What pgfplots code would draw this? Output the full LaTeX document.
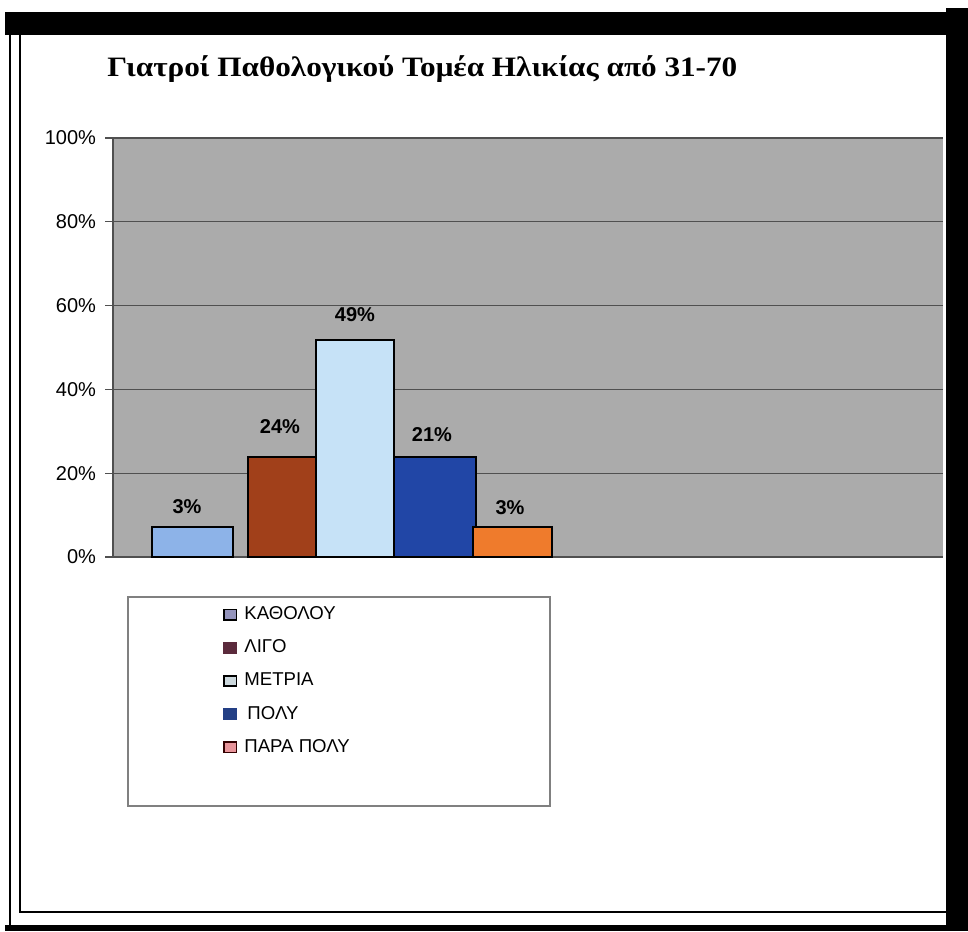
\documentclass[border=0pt]{standalone}
\usepackage{fontspec}
\setmainfont{Liberation Sans}
\newfontfamily\titlefont{Liberation Serif}
\usepackage{pgfplots}
\pgfplotsset{compat=1.18}
\definecolor{plotgray}{HTML}{ABABAB}
\definecolor{gridc}{HTML}{505050}
\definecolor{cA}{HTML}{8DB3E8}
\definecolor{cB}{HTML}{A1401A}
\definecolor{cC}{HTML}{C6E2F7}
\definecolor{cD}{HTML}{2146A6}
\definecolor{cE}{HTML}{EF7B2C}
\definecolor{lA}{HTML}{9494BC}
\definecolor{lB}{HTML}{5B2A3C}
\definecolor{lC}{HTML}{CCD8DD}
\definecolor{lD}{HTML}{233F85}
\definecolor{lE}{HTML}{E8949A}
\begin{document}
\begin{tikzpicture}
\begin{scope}[x=0.5pt,y=-0.5pt]
\useasboundingbox (0,0) rectangle (968,931);
\fill[white] (0,0) rectangle (968,931);
\fill[black] (5,12) rectangle (946,35);
\fill[black] (946,8) rectangle (968,931);
\fill[black] (5,925) rectangle (946,931);
\draw[line width=1.2pt] (10,35) -- (10,925);
\draw[line width=1pt] (20,35) -- (20,912) -- (946,912);
\node[anchor=base west, inner sep=0pt, font=\titlefont\bfseries\fontsize{13}{15}\selectfont] at (107,77) {\scalebox{1.2}[1.08]{Γιατροί Παθολογικού Τομέα Ηλικίας από 31-70}};
\draw[gray, line width=0.6pt] (128,597) rectangle (550,806);
\end{scope}
\begin{axis}[
  at={(56.5pt,-278.5pt)}, anchor=south west,
  scale only axis, width=415pt, height=209.5pt,
  xmin=113, xmax=943, ymin=0, ymax=100,
  axis background/.style={fill=plotgray},
  axis x line*=bottom, axis y line*=left,
  x axis line style={draw=gridc, line width=0.8pt},
  y axis line style={draw=gridc, line width=0.6pt},
  xtick=\empty,
  ytick={0,20,40,60,80,100},
  yticklabel={\pgfmathprintnumber{\tick}\%},
  ymajorgrids, grid style={draw=gridc, line width=0.6pt},
  tick align=outside, major tick length=4pt,
  tick style={draw=gridc, line width=0.6pt},
  y tick label style={font=\fontsize{10}{12}\selectfont, xshift=-1pt},
  /pgf/number format/assume math mode=true,
  every node near coord/.append style={font=\bfseries\fontsize{10}{12}\selectfont, anchor=base, inner sep=0pt},
  legend image code/.code={\filldraw[#1] (0pt,-2.6pt) rectangle (6.2pt,2.6pt);},
  legend style={draw=none, fill=none, at={(axis description cs:0.1325,-0.108)}, anchor=north west,
     font=\fontsize{9.3}{11}\selectfont, row sep=4.6pt, inner sep=0pt,
     nodes={inner xsep=3.5pt}},
  legend cell align=left,
]
\addplot[ybar, bar shift=0pt, bar width=81, fill=cA, draw=black, line width=0.9pt, forget plot,
  nodes near coords={3\%}, nodes near coords style={xshift=-2.75pt, yshift=6.75pt}] coordinates {(192.5,7.2)};
\addplot[ybar, bar shift=0pt, bar width=68, fill=cB, draw=black, line width=0.9pt, forget plot,
  nodes near coords={24\%}, nodes near coords style={xshift=-1pt, yshift=11.75pt}] coordinates {(282,23.9)};
\addplot[ybar, bar shift=0pt, bar width=78, fill=cC, draw=black, line width=0.9pt, forget plot,
  nodes near coords={49\%}, nodes near coords style={xshift=0pt, yshift=9.25pt}] coordinates {(355,51.8)};
\addplot[ybar, bar shift=0pt, bar width=82, fill=cD, draw=black, line width=0.9pt, forget plot,
  nodes near coords={21\%}, nodes near coords style={xshift=-1.5pt, yshift=7.75pt}] coordinates {(435,23.9)};
\addplot[ybar, bar shift=0pt, bar width=79, fill=cE, draw=black, line width=0.9pt, forget plot,
  nodes near coords={3\%}, nodes near coords style={xshift=-1.25pt, yshift=6.25pt}] coordinates {(512.5,7.2)};
\addlegendimage{fill=lA, draw=black, line width=0.8pt}
\addlegendentry{ΚΑΘΟΛΟΥ}
\addlegendimage{fill=lB, draw=lB, line width=0.8pt}
\addlegendentry{ΛΙΓΟ}
\addlegendimage{fill=lC, draw=black, line width=0.8pt}
\addlegendentry{ΜΕΤΡΙΑ}
\addlegendimage{fill=lD, draw=lD, line width=0.8pt}
\addlegendentry{\,ΠΟΛΥ}
\addlegendimage{fill=lE, draw=black!80!red, line width=0.8pt}
\addlegendentry{ΠΑΡΑ ΠΟΛΥ}
\end{axis}
\end{tikzpicture}
\end{document}
